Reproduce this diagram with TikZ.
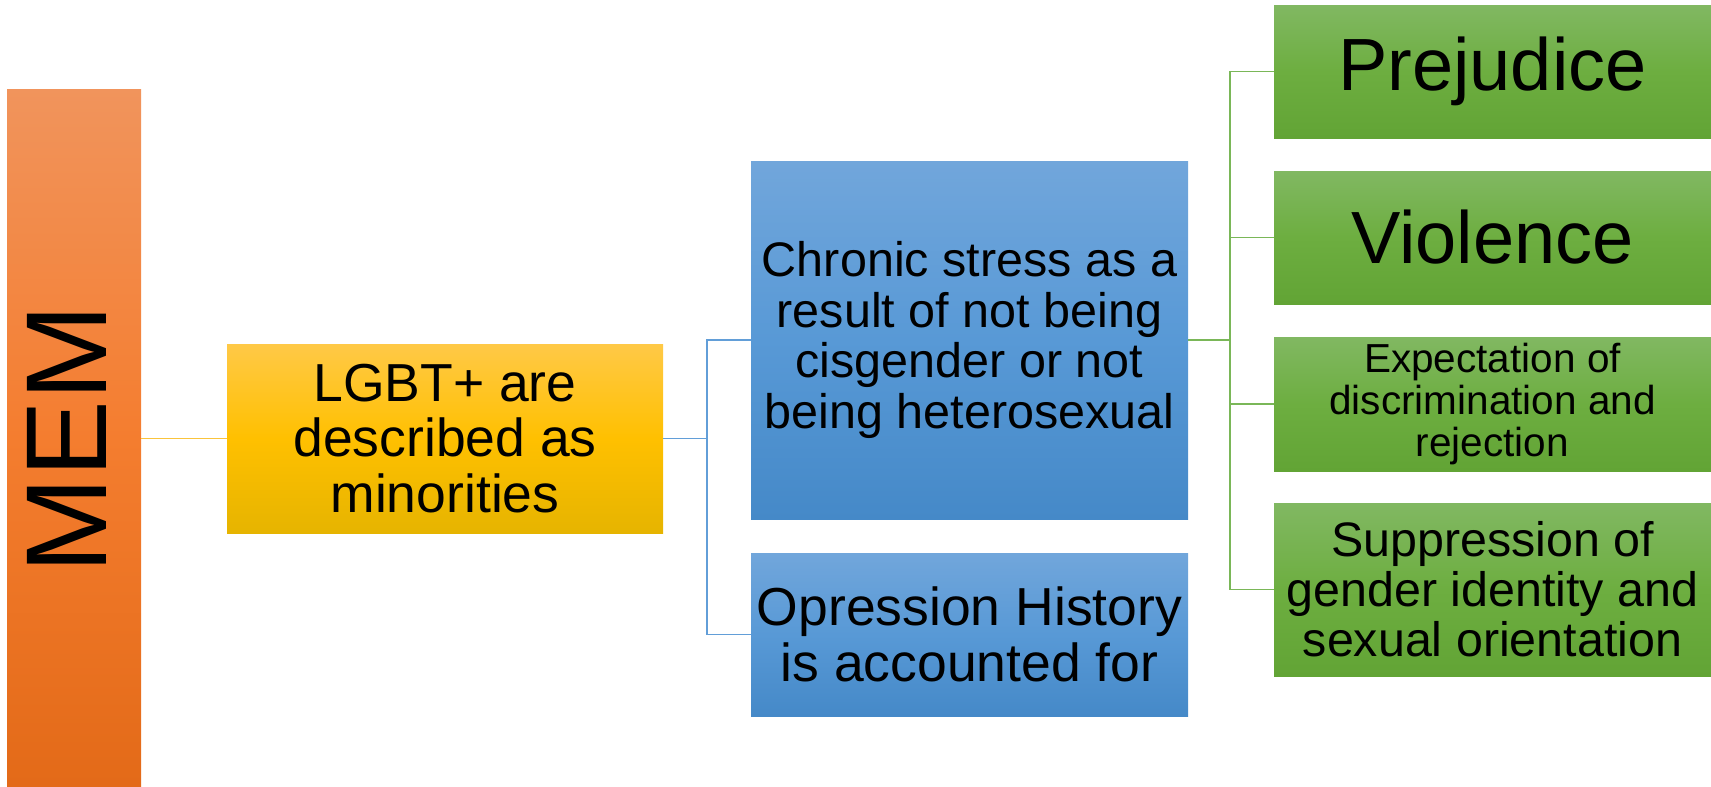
\documentclass[tikz,border=0pt]{standalone}
\usepackage{fontspec}
\setmainfont{Liberation Sans}
\definecolor{orTop}{RGB}{241,148,92}
\definecolor{orMid}{RGB}{244,125,47}
\definecolor{orBot}{RGB}{227,106,24}
\definecolor{yeTop}{RGB}{255,201,71}
\definecolor{yeMid}{RGB}{255,192,0}
\definecolor{yeBot}{RGB}{230,180,0}
\definecolor{blTop}{RGB}{113,166,219}
\definecolor{blMid}{RGB}{88,153,214}
\definecolor{blBot}{RGB}{69,137,200}
\definecolor{grTop}{RGB}{129,184,98}
\definecolor{grMid}{RGB}{109,174,64}
\definecolor{grBot}{RGB}{98,164,53}
\definecolor{yeLine}{RGB}{250,196,60}
\definecolor{blLine}{RGB}{98,158,216}
\definecolor{grLine}{RGB}{122,183,88}
\tikzset{
  boxbase/.style={inner sep=0pt, outer sep=0pt, anchor=north west, align=center, text=black},
  obox/.style={boxbase, top color=orTop, bottom color=orBot, middle color=orMid},
  ybox/.style={boxbase, minimum width=436, top color=yeTop, bottom color=yeBot, middle color=yeMid},
  bbox/.style={boxbase, minimum width=437, top color=blTop, bottom color=blBot, middle color=blMid},
  gbox/.style={boxbase, minimum width=437, top color=grTop, bottom color=grBot, middle color=grMid},
  conn/.style={line width=1.5pt},
  yline/.style={conn, draw=yeLine},
  bline/.style={conn, draw=blLine},
  gline/.style={conn, draw=grLine},
}
\begin{document}
\begin{tikzpicture}[x=1pt,y=-1pt]
\useasboundingbox (0,0) rectangle (1711,787);
% left column
\node[obox, minimum width=134, minimum height=698] (mem) at (7,89) {};
\node[rotate=90, inner sep=0pt, font=\fontsize{115}{115}\selectfont] (memlabel) at (67,439) {MEM};
% yellow
\node[ybox, minimum height=189, font=\fontsize{53.5}{55.4}\selectfont] (lgbt) at (227,344) {LGBT+ are\\described as\\minorities};
% blue
\node[bbox, minimum height=358, font=\fontsize{48.5}{50.5}\selectfont] (chronic) at (751,161) {Chronic stress as a\\result of not being\\cisgender or not\\being heterosexual};
\node[bbox, minimum height=163, font=\fontsize{53.5}{55.4}\selectfont] (hist) at (751,553) {Opression History\\is accounted for};
% green
\node[gbox, minimum height=133, font=\fontsize{74}{76}\selectfont] (prej) at (1274,5) {Prejudice};
\node[gbox, minimum height=133, font=\fontsize{74}{76}\selectfont] (viol) at (1274,171) {Violence};
\node[gbox, minimum height=134, font=\fontsize{40.5}{41.9}\selectfont] (expect) at (1274,337) {Expectation of\\discrimination and\\rejection};
\node[gbox, minimum height=173, font=\fontsize{48.4}{50}\selectfont] (supp) at (1274,503) {Suppression of\\gender identity and\\sexual orientation};
% connectors
\draw[yline] (mem.east |- lgbt.west) -- (lgbt.west);
\draw[bline] (lgbt.east) -- ++(44,0) coordinate (bj) |- (chronic.west);
\draw[bline] (bj) |- (hist.west);
\draw[gline] (chronic.east) -- ++(42,0) coordinate (gj);
\draw[gline] (gj) |- (prej.west);
\draw[gline] (gj) |- (viol.west);
\draw[gline] (gj) |- (expect.west);
\draw[gline] (gj) |- (supp.west);
\end{tikzpicture}
\end{document}
